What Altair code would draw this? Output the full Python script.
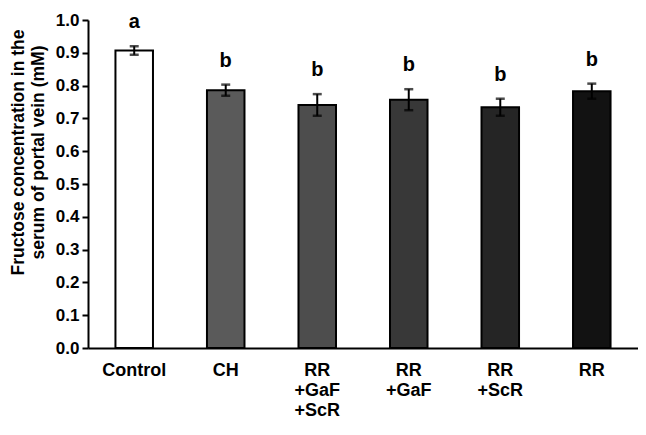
import altair as alt
import pandas as pd

groups = ["Control", "CH", "RR|+GaF|+ScR", "RR|+GaF", "RR|+ScR", "RR"]
means = [0.907, 0.786, 0.741, 0.757, 0.734, 0.783]
errors = [0.013, 0.017, 0.033, 0.032, 0.026, 0.023]
letters = ["a", "b", "b", "b", "b", "b"]
fills = ["#ffffff", "#5a5a5a", "#4d4d4d", "#383838", "#252525", "#121212"]

df = pd.DataFrame({
    "group": groups,
    "mean": means,
    "err": errors,
    "letter": letters,
})
df["lo"] = df["mean"] - df["err"]
df["hi"] = df["mean"] + df["err"]

FONT = "Liberation Sans"

x_axis = alt.Axis(
    title=None,
    labelAngle=0,
    labelExpr="split(datum.label, '|')",
    labelFont=FONT,
    labelFontSize=18,
    labelFontWeight="bold",
    labelColor="black",
    labelLineHeight=20,
    labelPadding=13,
    labelBaseline="top",
    ticks=False,
    domainColor="black",
    domainWidth=2,
)
x_scale = alt.Scale(paddingInner=0.59, paddingOuter=0.3)

y_scale = alt.Scale(domain=[0, 1], nice=False)
y_axis = alt.Axis(
    values=[0, 0.1, 0.2, 0.3, 0.4, 0.5, 0.6, 0.7, 0.8, 0.9, 1.0],
    format=".1f",
    grid=False,
    labelOverlap=False,
    domainColor="black",
    domainWidth=2,
    tickColor="black",
    tickWidth=2,
    tickSize=6,
    labelPadding=3,
    labelFont=FONT,
    labelFontSize=17,
    labelFontWeight="bold",
    labelColor="black",
    title=["Fructose concentration in the", "serum of portal vein (mM)"],
    titleFont=FONT,
    titleFontSize=17.5,
    titleFontWeight="bold",
    titleColor="black",
    titleAngle=270,
    titleAlign="center",
    titleBaseline="top",
    titleLineHeight=20,
    titleX=-79,
    titleY=132,
)


def xe():
    return alt.X("group:N", sort=groups, scale=x_scale, axis=x_axis)


def ye(field):
    return alt.Y(field, scale=y_scale, axis=y_axis)


base = alt.Chart(df)

bars = base.mark_bar(stroke="black", strokeWidth=2).encode(
    x=xe(),
    y=ye("mean:Q"),
    fill=alt.Fill("group:N", scale=alt.Scale(domain=groups, range=fills), legend=None),
)

rules = base.mark_rule(color="black", strokeWidth=2).encode(
    x=xe(),
    y=ye("lo:Q"),
    y2="hi:Q",
)

caps_hi = base.mark_tick(color="black", thickness=2.5, size=9).encode(
    x=xe(),
    y=ye("hi:Q"),
)
caps_lo = base.mark_tick(color="black", thickness=2.5, size=9).encode(
    x=xe(),
    y=ye("lo:Q"),
)

text = base.mark_text(
    font=FONT, fontSize=20, fontWeight="bold", color="black",
    baseline="alphabetic", dy=-18,
).encode(
    x=xe(),
    y=ye("hi:Q"),
    text="letter:N",
)

chart = (
    alt.layer(bars, rules, caps_hi, caps_lo, text)
    .properties(
        width=550,
        height=328,
        autosize=alt.AutoSizeParams(type="none"),
        padding={"left": 80, "top": 12, "right": 0, "bottom": 74},
        background="white",
    )
    .configure_view(stroke=None)
)

chart.save("out.html", embed_options={"renderer": "svg", "actions": False})
